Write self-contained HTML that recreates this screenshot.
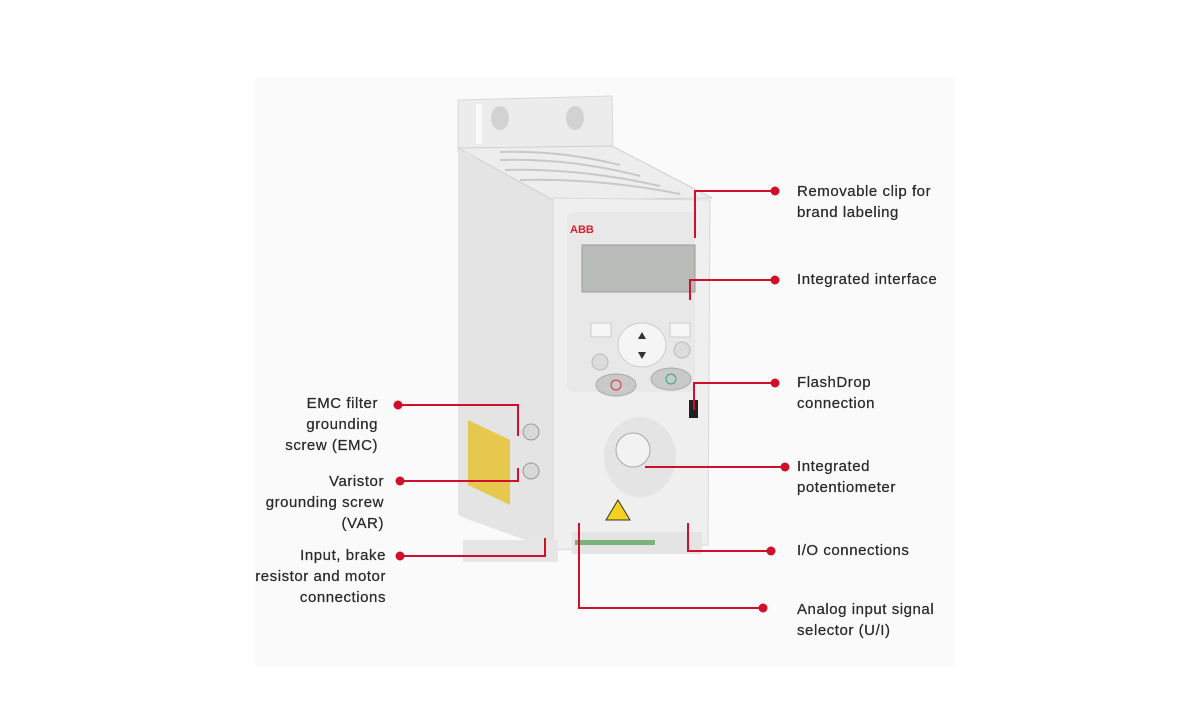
<!DOCTYPE html>
<html><head><meta charset="utf-8"><style>
body{margin:0;width:1200px;height:720px;background:#fff;position:relative;overflow:hidden;font-family:"Liberation Sans",sans-serif}
.p{position:absolute;left:255px;top:78px;width:700px;height:588px;background:#fafafa}
.t{position:absolute;font-size:15px;line-height:21px;color:#2a2a2a;letter-spacing:0.55px;-webkit-text-stroke:0.25px #2a2a2a}
.r{text-align:right}
svg{position:absolute;left:0;top:0}
</style></head><body>
<div class="p"></div>
<svg width="1200" height="720">
<path d="M458 100 L612 96 L613 150 L458 152 Z" fill="#ececec" stroke="#d8d8d8"/>
<rect x="476" y="104" width="6" height="40" fill="#fafafa"/>
<ellipse cx="500" cy="118" rx="9" ry="12" fill="#d2d2d2"/>
<ellipse cx="575" cy="118" rx="9" ry="12" fill="#d2d2d2"/>
<path d="M458 150 L553 195 L553 550 L470 520 L458 515 Z" fill="#e4e4e4"/>
<path d="M458 148 L612 146 L712 198 L553 200 Z" fill="#ededed" stroke="#d0d0d0"/>
<g stroke="#c8c8c8" stroke-width="2" fill="none">
<path d="M500 152 Q560 150 620 165"/><path d="M500 160 Q570 158 640 176"/><path d="M505 170 Q580 168 660 186"/><path d="M520 180 Q600 178 680 194"/>
</g>
<path d="M553 198 L710 200 L708 545 L553 550 Z" fill="#efefef" stroke="#d8d8d8"/>
<rect x="567" y="212" width="128" height="180" rx="6" fill="#e8e8e8"/>
<text x="570" y="233" font-size="11" font-weight="bold" fill="#d81e2a" font-family="Liberation Sans">ABB</text>
<rect x="582" y="245" width="113" height="47" fill="#b9bcb8" stroke="#9a9a9a"/>
<rect x="591" y="323" width="20" height="14" fill="#f6f6f6" stroke="#ccc"/>
<rect x="670" y="323" width="20" height="14" fill="#f6f6f6" stroke="#ccc"/>
<ellipse cx="642" cy="345" rx="24" ry="22" fill="#f5f5f5" stroke="#ccc"/>
<path d="M638 339 L642 332 L646 339Z M638 352 L642 359 L646 352Z" fill="#333"/>
<circle cx="600" cy="362" r="8" fill="#dcdcdc" stroke="#bbb"/>
<circle cx="682" cy="350" r="8" fill="#dcdcdc" stroke="#bbb"/>
<ellipse cx="616" cy="385" rx="20" ry="11" fill="#c9c9c9" stroke="#aaa"/>
<circle cx="616" cy="385" r="5" fill="none" stroke="#d33"/>
<ellipse cx="671" cy="379" rx="20" ry="11" fill="#c9c9c9" stroke="#aaa"/>
<circle cx="671" cy="379" r="5" fill="none" stroke="#3a7"/>
<ellipse cx="640" cy="457" rx="36" ry="40" fill="#e4e4e4"/>
<circle cx="633" cy="450" r="17" fill="#f2f2f2" stroke="#aaa"/>
<path d="M618 500 L630 520 L606 520Z" fill="#f3d11c" stroke="#333"/>
<rect x="689" y="400" width="9" height="18" fill="#222"/>
<rect x="572" y="532" width="130" height="22" fill="#e4e4e4"/>
<rect x="575" y="540" width="80" height="5" fill="#7bb27b"/>
<path d="M468 420 L510 440 L510 505 L468 485 Z" fill="#e6c84e"/>
<circle cx="531" cy="432" r="8" fill="#d8d8d8" stroke="#999"/>
<circle cx="531" cy="471" r="8" fill="#d8d8d8" stroke="#999"/>
<rect x="463" y="540" width="95" height="22" fill="#e6e6e6"/>
<g stroke="#d0102a" stroke-width="2" fill="none">
<path d="M775 191 H695 V238"/>
<path d="M775 280 H690 V300"/>
<path d="M775 383 H694 V410"/>
<path d="M785 467 H645"/>
<path d="M771 551 H688 V523"/>
<path d="M763 608 H579 V523"/>
<path d="M398 405 H518 V436"/>
<path d="M400 481 H518 V468"/>
<path d="M400 556 H545 V538"/>
</g>
<g fill="#d0102a">
<circle cx="775" cy="191" r="4.5"/><circle cx="775" cy="280" r="4.5"/><circle cx="775" cy="383" r="4.5"/>
<circle cx="785" cy="467" r="4.5"/><circle cx="771" cy="551" r="4.5"/><circle cx="763" cy="608" r="4.5"/>
<circle cx="398" cy="405" r="4.5"/><circle cx="400" cy="481" r="4.5"/><circle cx="400" cy="556" r="4.5"/>
</g>
</svg>
<div class="t" style="left:797px;top:181px">Removable clip for<br>brand labeling</div>
<div class="t" style="left:797px;top:269px">Integrated interface</div>
<div class="t" style="left:797px;top:372px">FlashDrop<br>connection</div>
<div class="t" style="left:797px;top:456px">Integrated<br>potentiometer</div>
<div class="t" style="left:797px;top:540px">I/O connections</div>
<div class="t" style="left:797px;top:599px">Analog input signal<br>selector (U/I)</div>
<div class="t r" style="right:822px;top:393px">EMC filter<br>grounding<br>screw (EMC)</div>
<div class="t r" style="right:816px;top:471px">Varistor<br>grounding screw<br>(VAR)</div>
<div class="t r" style="right:814px;top:545px">Input, brake<br>resistor and motor<br>connections</div>
</body></html>
